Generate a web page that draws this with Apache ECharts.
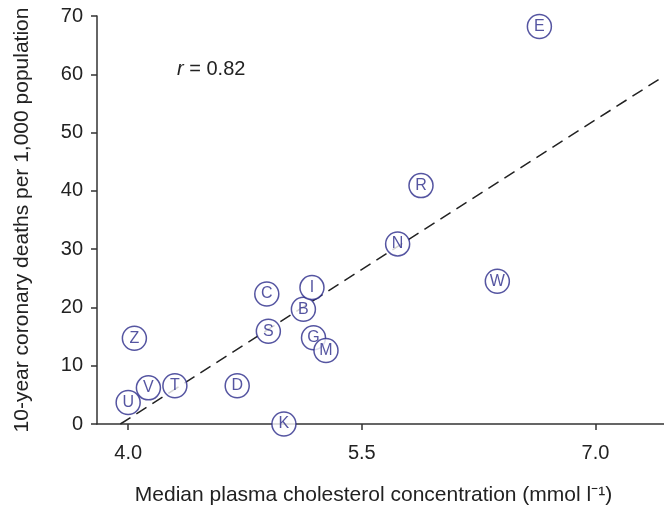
<!DOCTYPE html>
<html>
<head>
<meta charset="utf-8">
<script src="https://cdn.jsdelivr.net/npm/echarts@6/dist/echarts.min.js"></script>
<style>html,body{margin:0;padding:0;background:#fff}#c{width:664px;height:511px}</style>
</head>
<body>
<div id="c"></div>
<script>
const labels = ['U','V','T','Z','D','S','B','G','M','K','C','I','N','R','W','E'];
const cholesterol = [4.0, 4.13, 4.30, 4.04, 4.70, 4.90, 5.125, 5.19, 5.27, 5.0, 4.89, 5.18, 5.73, 5.88, 6.37, 6.64];
const deaths = [3.7, 6.2, 6.55, 14.7, 6.55, 15.9, 19.7, 14.8, 12.6, 0, 22.3, 23.4, 30.9, 40.9, 24.5, 68.2];
const fitLine = [[3.95, 0], [7.44, 59.7]];
const xTicks = [4.0, 5.5, 7.0];

const col = '#2b2a8a';
const txt = '#222';
const font = 'Liberation Sans';
const chart = echarts.init(document.getElementById('c'));
chart.setOption({
  animation: false,
  grid: {left: 97, top: 16, right: 0, bottom: 85, containLabel: false},
  xAxis: {
    type: 'value', min: 3.8, max: 7.44,
    name: 'Median plasma cholesterol concentration (mmol l\u207B\u00B9)',
    nameLocation: 'middle', nameGap: 61,
    nameTextStyle: {fontFamily: font, fontSize: 21, color: txt, padding: [0, 14, 0, 0]},
    axisLine: {lineStyle: {color: '#333', width: 1.5}},
    axisTick: {show: true, length: 6, customValues: xTicks, lineStyle: {color: '#333', width: 1.5}},
    axisLabel: {customValues: xTicks, formatter: v => v.toFixed(1), margin: 19,
      fontFamily: font, fontSize: 20, color: txt},
    splitLine: {show: false}
  },
  yAxis: {
    type: 'value', min: 0, max: 70, interval: 10,
    name: '10-year coronary deaths per 1,000 population',
    nameLocation: 'middle', nameGap: 64, nameRotate: 90,
    nameTextStyle: {fontFamily: font, fontSize: 21, color: txt},
    axisLine: {show: true, lineStyle: {color: '#333', width: 1.5}},
    axisTick: {show: true, length: 6, lineStyle: {color: '#333', width: 1.5}},
    axisLabel: {margin: 14, fontFamily: font, fontSize: 20, color: txt},
    splitLine: {show: false}
  },
  graphic: [{
    type: 'text', left: 177, top: 59,
    style: {
      text: '{i|r} = 0.82',
      font: '20px "Liberation Sans"', fill: txt,
      rich: {i: {fontStyle: 'italic', fontFamily: font, fontSize: 20, fill: txt, color: txt}}
    }
  }],
  series: [
    {
      type: 'line', data: fitLine, symbol: 'none', silent: true,
      lineStyle: {color: '#222', width: 1.5, type: [12, 7]}, z: 1
    },
    {
      type: 'scatter', z: 3,
      data: labels.map((n, i) => ({name: n, value: [cholesterol[i], deaths[i]]})),
      symbol: 'circle', symbolSize: 24,
      itemStyle: {color: '#fff', borderColor: col, borderWidth: 1.5},
      label: {show: true, position: 'inside', formatter: p => p.name,
        fontFamily: font, fontSize: 16, color: col}
    }
  ]
});
</script>
</body>
</html>
